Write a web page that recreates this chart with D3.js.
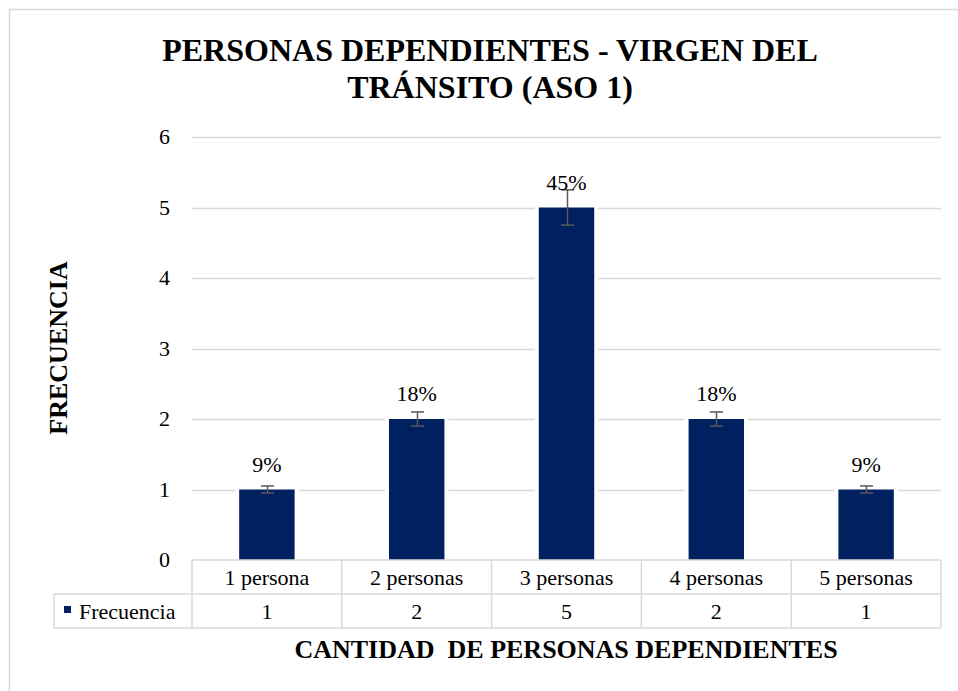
<!DOCTYPE html>
<html>
<head>
<meta charset="utf-8">
<script src="https://cdn.jsdelivr.net/npm/d3@7"></script>
<style>
  body { margin: 0; background: #fff; }
  text { font-family: 'Liberation Serif', 'Times New Roman', Times, serif; }
</style>
</head>
<body>
<svg width="958" height="691"></svg>
<script>
// Chart data.
const categories = ['1 persona', '2 personas', '3 personas', '4 personas', '5 personas'];
const frecuencia = [1, 2, 5, 2, 1];
const percentLabels = ['9%', '18%', '45%', '18%', '9%'];
const yTicks = [0, 1, 2, 3, 4, 5, 6];
const seriesName = 'Frecuencia';
const errorPct = 0.05; // Percentage error bars.

const FONT = 'Liberation Serif';
const BAR_COLOR = '#002060';
const GRID_COLOR = '#d9d9d9';
const ERR_COLOR = '#595959';

const svg = d3.select('svg');

// Chart frame (right and bottom edges fall outside the picture).
svg.append('rect')
    .attr('x', 9.5).attr('y', 9.5)
    .attr('width', 1000).attr('height', 1000)
    .attr('fill', '#fff')
    .attr('stroke', GRID_COLOR)
    .attr('stroke-width', 1.5);

const plot = {left: 192, right: 941, top: 137, bottom: 560};

const x = d3.scaleBand()
    .domain(categories)
    .range([plot.left, plot.right])
    .padding(0);
const y = d3.scaleLinear()
    .domain([0, 6])
    .range([plot.bottom, plot.top]);

const addText = (parent) => parent.append('text').attr('font-family', FONT);

// Title.
const title = addText(svg)
    .attr('text-anchor', 'middle')
    .attr('font-size', 32)
    .attr('font-weight', 'bold');
title.append('tspan').attr('x', 490).attr('y', 61)
    .text('PERSONAS DEPENDIENTES - VIRGEN DEL');
title.append('tspan').attr('x', 490).attr('y', 98)
    .text('TRÁNSITO (ASO 1)');

// Gridlines.
svg.append('g')
    .selectAll('line')
    .data(yTicks.filter(d => d > 0))
    .join('line')
    .attr('x1', plot.left).attr('x2', plot.right)
    .attr('y1', d => Math.round(y(d)) + 0.5)
    .attr('y2', d => Math.round(y(d)) + 0.5)
    .attr('stroke', GRID_COLOR)
    .attr('stroke-width', 1.5);

// Y tick labels.
svg.append('g')
    .attr('font-family', FONT)
    .selectAll('text')
    .data(yTicks)
    .join('text')
    .attr('x', 170)
    .attr('y', d => y(d) + 7)
    .attr('text-anchor', 'end')
    .attr('font-size', 22)
    .text(d => d);

// Y axis title.
addText(svg)
    .attr('transform', 'translate(67,348) rotate(-90)')
    .attr('text-anchor', 'middle')
    .attr('font-size', 26)
    .attr('font-weight', 'bold')
    .text('FRECUENCIA');

// Bars.
const barWidth = x.bandwidth() * 0.37;
const center = d => x(d) + x.bandwidth() / 2;
const bars = svg.append('g');
bars.selectAll('rect.gap')
    .data(categories)
    .join('rect')
    .attr('class', 'gap')
    .attr('x', d => center(d) - barWidth / 2 - 4)
    .attr('y', (d, i) => y(frecuencia[i]) - 1)
    .attr('width', barWidth + 8)
    .attr('height', (d, i) => y(0) - y(frecuencia[i]) + 1)
    .attr('fill', '#fff');
bars.selectAll('rect.bar')
    .data(categories)
    .join('rect')
    .attr('class', 'bar')
    .attr('x', d => center(d) - barWidth / 2)
    .attr('y', (d, i) => y(frecuencia[i]))
    .attr('width', barWidth)
    .attr('height', (d, i) => y(0) - y(frecuencia[i]))
    .attr('fill', BAR_COLOR);

// Error bars.
const err = svg.append('g')
    .attr('stroke', ERR_COLOR)
    .attr('stroke-width', 1.5);
categories.forEach((c, i) => {
  const v = frecuencia[i];
  const hi = y(v * (1 + errorPct));
  const lo = y(v * (1 - errorPct));
  const cx = Math.round(center(c)) + 0.5;
  err.append('line').attr('x1', cx).attr('x2', cx).attr('y1', hi).attr('y2', lo);
  err.append('line').attr('x1', cx - 6.5).attr('x2', cx + 6.5).attr('y1', hi).attr('y2', hi);
  err.append('line').attr('x1', cx - 6.5).attr('x2', cx + 6.5).attr('y1', lo).attr('y2', lo);
});

// Data labels.
svg.append('g')
    .attr('font-family', FONT)
    .selectAll('text')
    .data(categories)
    .join('text')
    .attr('x', d => center(d))
    .attr('y', (d, i) => y(frecuencia[i]) - 18)
    .attr('text-anchor', 'middle')
    .attr('font-size', 22)
    .text((d, i) => percentLabels[i]);

// Data table under the axis.
const row1 = {top: 560, bottom: 594};
const row2 = {top: 594, bottom: 628};
const legendLeft = 54;
const table = svg.append('g')
    .attr('stroke', GRID_COLOR)
    .attr('stroke-width', 1.5);
table.append('line').attr('x1', plot.left).attr('x2', plot.right)
    .attr('y1', row1.top).attr('y2', row1.top);
table.append('line').attr('x1', legendLeft).attr('x2', plot.right)
    .attr('y1', row2.top).attr('y2', row2.top);
table.append('line').attr('x1', legendLeft).attr('x2', plot.right)
    .attr('y1', row2.bottom).attr('y2', row2.bottom);
table.append('line').attr('x1', legendLeft).attr('x2', legendLeft)
    .attr('y1', row2.top).attr('y2', row2.bottom);
table.selectAll('line.col')
    .data(categories.map(c => x(c)).concat([plot.right]))
    .join('line')
    .attr('class', 'col')
    .attr('x1', d => d).attr('x2', d => d)
    .attr('y1', row1.top).attr('y2', row2.bottom);

svg.append('g')
    .attr('font-family', FONT)
    .selectAll('text')
    .data(categories)
    .join('text')
    .attr('x', d => center(d))
    .attr('y', row1.bottom - 9)
    .attr('text-anchor', 'middle')
    .attr('font-size', 22)
    .text(d => d);

svg.append('g')
    .attr('font-family', FONT)
    .selectAll('text')
    .data(categories)
    .join('text')
    .attr('x', d => center(d))
    .attr('y', row2.bottom - 9)
    .attr('text-anchor', 'middle')
    .attr('font-size', 22)
    .text((d, i) => frecuencia[i]);

// Legend key inside the table.
svg.append('rect')
    .attr('x', 64).attr('y', 606)
    .attr('width', 7).attr('height', 7)
    .attr('fill', BAR_COLOR);
addText(svg)
    .attr('x', 79).attr('y', row2.bottom - 9)
    .attr('font-size', 22)
    .text(seriesName);

// X axis title.
addText(svg)
    .attr('x', 566).attr('y', 658)
    .attr('text-anchor', 'middle')
    .attr('font-size', 26)
    .attr('font-weight', 'bold')
    .attr('xml:space', 'preserve')
    .text('CANTIDAD  DE PERSONAS DEPENDIENTES');
</script>
</body>
</html>
